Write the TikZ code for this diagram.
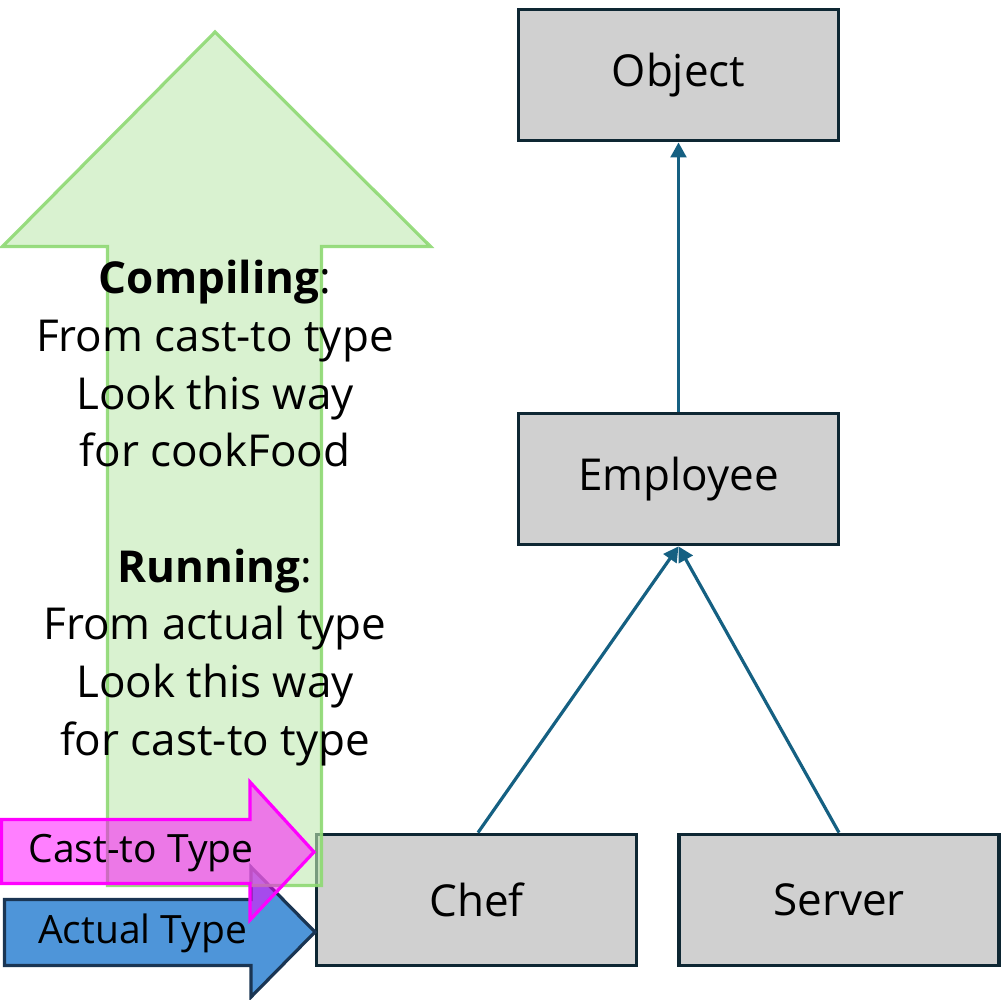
\documentclass[tikz,border=0pt]{standalone}
\usepackage{fontspec}
\setmainfont{Open Sans}
\usetikzlibrary{arrows.meta}
\definecolor{boxfill}{HTML}{D0D0D0}
\definecolor{boxline}{HTML}{0E2733}
\definecolor{conn}{HTML}{156082}
\definecolor{greenfill}{HTML}{C0E9B1}
\definecolor{greenline}{HTML}{8ED973}
\definecolor{bluefill}{HTML}{4E95D9}
\definecolor{blueline}{HTML}{1A3553}
\definecolor{pinkc}{HTML}{FF00FF}
\begin{document}
\begin{tikzpicture}[x=0.5pt,y=-0.5pt,
  classbox/.style={draw=boxline, fill=boxfill, line width=1.9pt, minimum width=160pt, minimum height=65.5pt, inner sep=0pt, font=\fontsize{22}{26}\selectfont},
  conn/.style={draw=conn, line width=1.6pt, -{Triangle[length=7.5pt,width=7.8pt]}},
  lbl/.style={inner sep=0pt, font=\fontsize{19.5}{23}\selectfont},
  note/.style={inner sep=0pt, align=center, font=\fontsize{22}{28.85}\selectfont}]
\useasboundingbox (0,0) rectangle (1001,1000);
% class boxes
\node[classbox] (obj) at (678.5,75) {\raisebox{-1.5pt}{Object}};
\node[classbox] (emp) at (678.5,479) {\raisebox{-1.5pt}{Employee}};
\node[classbox] (chef) at (476.5,900) {Chef};
\node[classbox] (srv) at (839,900) {Server};
% connectors
\draw[conn] (chef.north -| 478,0) -- (emp.south);
\draw[conn] (srv.north) -- (emp.south);
\draw[conn] (emp.north) -- (obj.south);
% actual type arrow
\draw[fill=bluefill, draw=blueline, line width=1.6pt, line join=miter]
  (4.5,899.5) -- (251,899.5) -- (251,867) -- (315,932) -- (251,997) -- (251,965.5) -- (4.5,965.5) -- cycle;
% big green arrow
\draw[fill=greenfill, fill opacity=0.6, draw=greenline, draw opacity=0.9, line width=1.6pt, line join=miter]
  (215,32) -- (430.5,246.5) -- (321.5,246.5) -- (321.5,885.5) -- (107.5,885.5) -- (107.5,246.5) -- (2.5,246.5) -- cycle;
% cast-to arrow
\draw[fill=pinkc, fill opacity=0.5, draw=pinkc, line width=1.6pt, line join=miter]
  (1.5,819.5) -- (250,819.5) -- (250,782) -- (314,852) -- (250,920) -- (250,883.5) -- (1.5,883.5) -- cycle;
% labels
\node[lbl] (castlbl) at (141,853) {Cast-to Type};
\node[lbl] (actlbl) at (142.5,933) {Actual Type};
\node[note] (notes) at (215,513) {\textbf{Compiling}:\\From cast-to type\\Look this way\\for cookFood\\[28.85pt]\textbf{Running}:\\From actual type\\Look this way\\for cast-to type};
\end{tikzpicture}
\end{document}
